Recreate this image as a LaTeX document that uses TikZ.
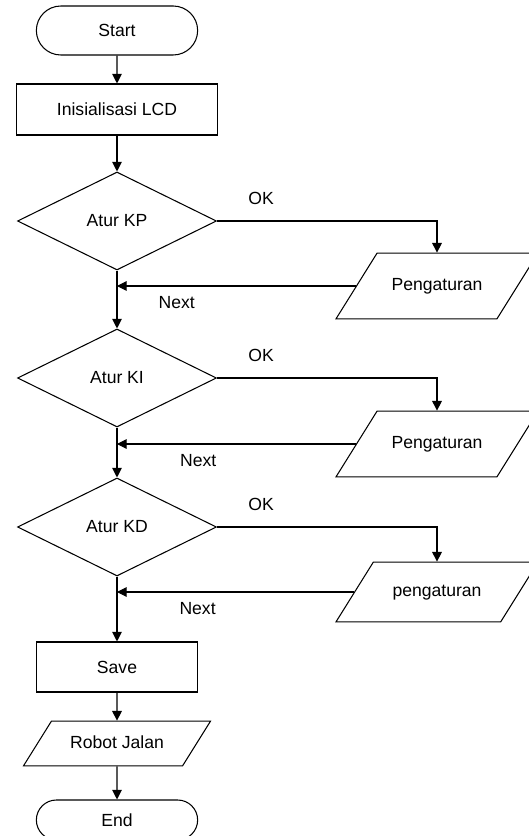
\documentclass[tikz,border=0pt]{standalone}
\usepackage{fontspec}
\setmainfont{Liberation Sans}
\usetikzlibrary{shapes.geometric, shapes.misc, arrows.meta, positioning}

\begin{document}
\begin{tikzpicture}[->, >={Triangle[length=5.5pt,width=5.5pt]}, node distance=2cm, on grid, semithick, font=\fontsize{10}{12}\selectfont]
      \tikzstyle{term}=[draw, rounded rectangle, minimum width=3.46cm, minimum height=0.98cm]
      \tikzstyle{proc}=[draw, rectangle, minimum width=4.02cm, minimum height=1.02cm]
      \tikzstyle{decide}=[draw, diamond, minimum width=3.98cm, minimum height=1.96cm, inner sep=0pt]
      \tikzstyle{io}=[draw, trapezium, trapezium left angle=58, trapezium right angle=122, trapezium stretches body, text height=7.5pt, text depth=2pt, inner ysep=0.49cm, minimum width=4.04cm]
      \useasboundingbox (-2.34,0.61) rectangle (8.22,-16.11);
      \node[term] (start) {Start};
      \node[proc] (init) [below=1.58cm of start] {Inisialisasi LCD};
      \node[decide] (kp) [below=2.23cm of init] {Atur KP};
      \node[io] (peng1) [below right=1.3cm and 6.4cm of kp] {Pengaturan};
      \node[decide] (ki) [below=3.14cm of kp] {Atur KI};
      \node[io] (peng2) [below right=1.32cm and 6.4cm of ki] {Pengaturan};
      \node[decide] (kd) [below=2.98cm of ki] {Atur KD};
      \node[io, inner ysep=0.43cm] (peng3) [below right=1.3cm and 6.4cm of kd] {pengaturan};
      \node[proc, minimum width=3.22cm, minimum height=1cm] (save) [below=2.8cm of kd] {Save};
      \node[io, minimum width=3.74cm, inner ysep=0.28cm] (robot) [below=1.53cm of save] {Robot Jalan};
      \node[term, minimum height=0.8cm] (end) [below=1.53cm of robot] {End};
      \draw (start) -- (init);
      \draw (init) -- (kp);
      \draw (kp) -- (ki);
      \draw (ki) -- (kd);
      \draw (kd) -- (save);
      \draw (save) -- (robot);
      \draw (robot) -- (end);
      \draw (kp.east) -| node[pos=0.1, above=0.2cm] {OK} (peng1.north);
      \draw (ki.east) -| node[pos=0.1, above=0.2cm] {OK} (peng2.north);
      \draw (kd.east) -| node[pos=0.1, above=0.2cm] {OK} (peng3.north);
      \draw (peng1.left side) -- node[pos=0.75, below=0.08cm] {Next} (peng1.left side -| kp.south);
      \draw (peng2.left side) -- node[pos=0.66, below=0.08cm] {Next} (peng2.left side -| ki.south);
      \draw (peng3.left side) -- node[pos=0.66, below=0.08cm] {Next} (peng3.left side -| kd.south);
    \end{tikzpicture}
\end{document}
